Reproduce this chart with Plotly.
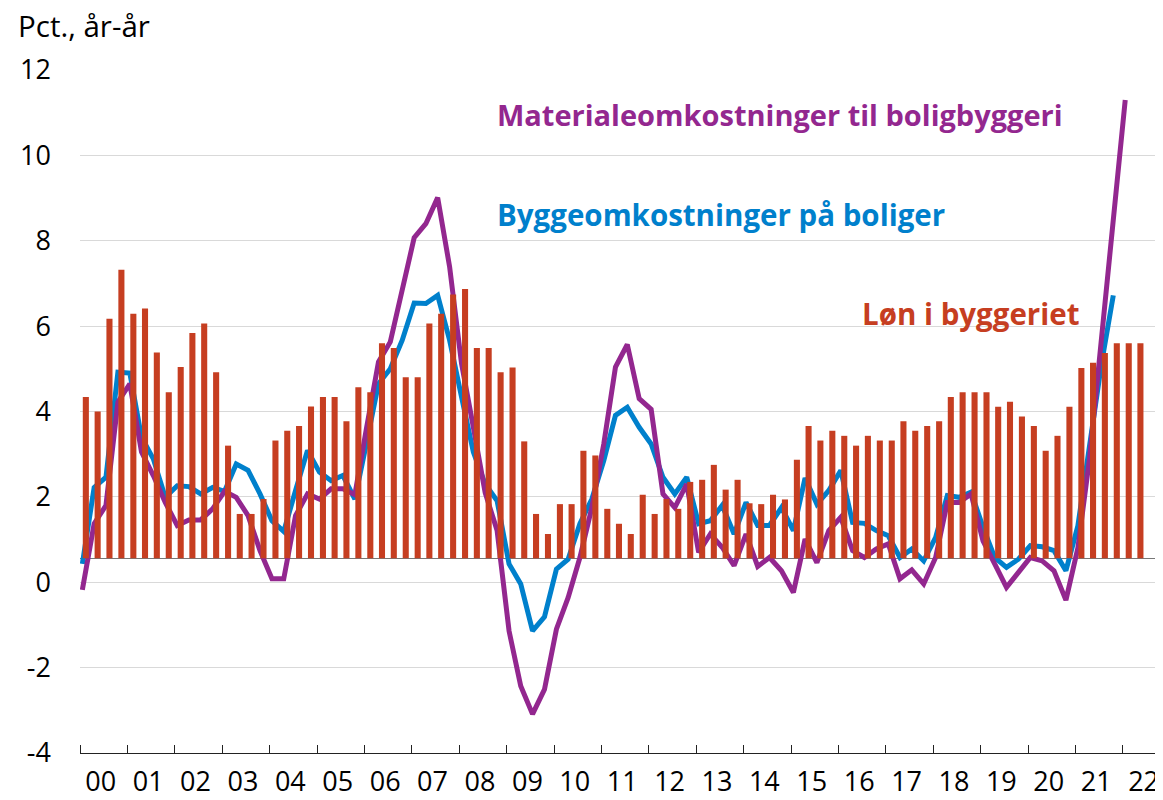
import pandas as pd
import plotly.graph_objects as go

# ---------------- data ----------------
# Løn i byggeriet (bars), quarterly 2000Q1 - 2022Q2, pct. år-år
wage_growth = [
    3.78, 3.44, 5.61, 6.76,   # 2000
    5.73, 5.85, 4.82, 3.89,   # 2001
    4.48, 5.28, 5.50, 4.36,   # 2002
    2.64, 1.04, 1.04, 1.39,   # 2003
    2.76, 2.99, 3.10, 3.56,   # 2004
    3.78, 3.78, 3.21, 4.01,   # 2005
    3.89, 5.04, 4.93, 4.24,   # 2006
    4.24, 5.50, 5.73, 6.18,   # 2007
    6.31, 4.93, 4.93, 4.36,   # 2008
    4.47, 2.74, 1.04, 0.57,   # 2009
    1.27, 1.27, 2.52, 2.41,   # 2010
    1.16, 0.81, 0.57, 1.49,   # 2011
    1.04, 1.39, 1.16, 1.79,   # 2012
    1.84, 2.19, 1.61, 1.84,   # 2013
    1.29, 1.27, 1.49, 1.38,   # 2014
    2.31, 3.10, 2.76, 2.99,   # 2015
    2.87, 2.64, 2.87, 2.76,   # 2016
    2.76, 3.21, 2.99, 3.10,   # 2017
    3.21, 3.78, 3.89, 3.89,   # 2018
    3.89, 3.55, 3.67, 3.32,   # 2019
    3.10, 2.52, 2.87, 3.55,   # 2020
    4.46, 4.58, 4.81, 5.04,   # 2021
    5.04, 5.04,               # 2022
]

# Byggeomkostninger på boliger (blue), quarterly 2000Q1 - 2021Q4
building_costs = [
    0.43, 2.22, 2.46, 4.92,
    4.90, 3.40, 2.89, 1.99,
    2.26, 2.24, 2.07, 2.22,
    2.13, 2.77, 2.62, 2.07,
    1.44, 1.19, 2.15, 3.09,
    2.58, 2.38, 2.50, 1.95,
    3.30, 4.65, 5.00, 5.67,
    6.54, 6.53, 6.72, 5.67,
    4.34, 3.05, 2.30, 1.91,
    0.43, -0.04, -1.14, -0.81,
    0.31, 0.54, 1.37, 1.95,
    2.85, 3.91, 4.10, 3.63,
    3.24, 2.46, 2.07, 2.46,
    1.37, 1.44, 1.80, 1.13,
    1.87, 1.33, 1.33, 1.75,
    1.21, 2.44, 1.83, 2.15,
    2.62, 1.40, 1.38, 1.21,
    1.09, 0.58, 0.78, 0.50,
    1.05, 2.03, 1.99, 2.11,
    1.29, 0.58, 0.35, 0.54,
    0.86, 0.83, 0.74, 0.27,
    1.32, 3.16, 5.10, 6.72,
]

# Materialeomkostninger til boligbyggeri (purple), quarterly 2000Q1 - 2022Q1
material_costs = [
    -0.18, 1.37, 1.80, 4.22,
    4.65, 3.05, 2.50, 1.87,
    1.33, 1.46, 1.46, 1.72,
    2.13, 1.99, 1.56, 0.74,
    0.08, 0.08, 1.56, 2.07,
    1.95, 2.19, 2.19, 2.05,
    3.65, 5.16, 5.63, 6.84,
    8.07, 8.40, 9.01, 7.39,
    5.12, 3.63, 2.10, 1.21,
    -1.14, -2.43, -3.09, -2.51,
    -1.10, -0.36, 0.58, 1.75,
    3.24, 5.04, 5.57, 4.30,
    4.05, 2.07, 1.75, 2.30,
    0.70, 1.13, 0.82, 0.39,
    1.13, 0.37, 0.58, 0.27,
    -0.24, 1.01, 0.46, 1.21,
    1.52, 0.74, 0.58, 0.78,
    0.90, 0.08, 0.29, -0.04,
    0.58, 1.87, 1.87, 2.07,
    0.97, 0.43, -0.12, 0.23,
    0.58, 0.50, 0.27, -0.42,
    0.80, 2.90, 5.70, 8.48,
    11.30,
]

first_quarter = "2000Q1"
year_ticks = "M12"
y_tick_values = [-4, -2, 0, 2, 4, 6, 8, 10, 12]
y_tick_labels = ["-4", "-2", "0", "2", "4", "6", "8", "10", "12"]

label_material = "Materialeomkostninger til boligbyggeri"
label_building = "Byggeomkostninger på boliger"
label_wage = "Løn i byggeriet"
y_title = "Pct., år-år"

# ---------------- styles ----------------
PURPLE = "#93278F"
BLUE = "#0080CC"
RED = "#C63E21"
GRID = "#D9D9D9"
FONT = "Open Sans"
BAR_ZERO_SHIFT = 0.56  # bar axis zero sits slightly above the line axis zero


def quarter_positions(n, offset_days):
    q = pd.period_range(first_quarter, periods=n, freq="Q")
    return q.start_time + pd.Timedelta(days=offset_days)


bar_x = quarter_positions(len(wage_growth), 45)
blue_x = quarter_positions(len(building_costs), 18)
purple_x = quarter_positions(len(material_costs), 18)

fig = go.Figure()
fig.add_trace(go.Bar(
    x=bar_x, y=wage_growth, yaxis="y2",
    marker=dict(color=RED, line=dict(width=0)),
    name=label_wage, showlegend=False,
))
fig.add_trace(go.Scatter(
    x=blue_x, y=building_costs, mode="lines",
    line=dict(color=BLUE, width=5),
    name=label_building, showlegend=False,
))
fig.add_trace(go.Scatter(
    x=purple_x, y=material_costs, mode="lines",
    line=dict(color=PURPLE, width=5),
    name=label_material, showlegend=False,
))

# The page body adds an 8 px margin, so the figure is sized 8 px smaller.
fig.update_layout(
    width=1155, height=792,
    margin=dict(l=72, r=0, t=62, b=47, autoexpand=False),
    paper_bgcolor="white", plot_bgcolor="white",
    font=dict(family=FONT, size=28, color="black"),
    bargap=0.48,
    xaxis=dict(
        type="date",
        range=["2000-01-01", "2022-11-06"],
        tick0="2000-01-01", dtick=year_ticks, tickformat="%y",
        ticklabelmode="period",
        ticks="inside", ticklen=8, tickwidth=1.3, tickcolor="#222",
        showline=True, linecolor="#222", linewidth=1.3,
        showgrid=False, zeroline=False,
        tickfont=dict(size=27),
        ticklabelstandoff=4,
        ticklabelshift=-3,
        automargin=False,
    ),
    yaxis=dict(
        range=[-4, 12], tickvals=y_tick_values, ticktext=y_tick_labels,
        showgrid=True, gridcolor=GRID, gridwidth=1.3,
        zeroline=False, showline=False, ticks="",
        tickfont=dict(size=27),
        ticklabelstandoff=28,
        automargin=False,
    ),
    yaxis2=dict(
        overlaying="y", side="right",
        range=[-4 - BAR_ZERO_SHIFT, 12 - BAR_ZERO_SHIFT],
        showgrid=False, showticklabels=False, ticks="",
        zeroline=True, zerolinecolor="#777", zerolinewidth=1.3,
        showline=False, automargin=False,
    ),
    annotations=[
        dict(text=y_title, xref="paper", yref="paper", x=0, y=1,
             xanchor="left", yanchor="middle", xshift=-64, yshift=45,
             showarrow=False, font=dict(size=29.5, color="black")),
        dict(text=f"<b>{label_material}</b>", xref="x", yref="y",
             x="2008-10-05", y=10.95, xanchor="left", yanchor="middle",
             showarrow=False, font=dict(size=29, color=PURPLE)),
        dict(text=f"<b>{label_building}</b>", xref="x", yref="y",
             x="2008-10-01", y=8.62, xanchor="left", yanchor="middle",
             showarrow=False, font=dict(size=29.5, color=BLUE)),
        dict(text=f"<b>{label_wage}</b>", xref="x", yref="y",
             x="2016-06-15", y=6.3, xanchor="left", yanchor="middle",
             showarrow=False, font=dict(size=29.5, color=RED)),
    ],
)

fig.write_html("out.html")
